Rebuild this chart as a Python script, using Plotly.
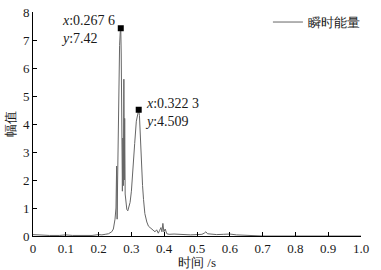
import plotly.graph_objects as go

time_s = [0, 0.02, 0.05, 0.08, 0.1, 0.12, 0.15, 0.18, 0.2, 0.21, 0.22, 0.23, 0.24, 0.245,
          0.25, 0.253, 0.255, 0.2565, 0.258, 0.26, 0.262, 0.264, 0.266, 0.2676, 0.269, 0.271,
          0.2725, 0.274, 0.2755, 0.277, 0.2785, 0.2795, 0.281, 0.283, 0.286, 0.289, 0.292,
          0.296, 0.3, 0.305, 0.31, 0.315, 0.319, 0.3223, 0.3245, 0.326, 0.329, 0.331, 0.334,
          0.337, 0.341, 0.347, 0.352, 0.357, 0.362, 0.367, 0.372, 0.377, 0.382, 0.386, 0.39,
          0.393, 0.396, 0.399, 0.403, 0.408, 0.415, 0.43, 0.45, 0.48, 0.5, 0.515, 0.522, 0.527,
          0.532, 0.545, 0.56, 0.58, 0.6, 0.62, 0.65, 0.7, 0.8, 0.9, 1.0]
energy = [0.05, 0.03, 0.02, 0.02, 0.04, 0.02, 0.02, 0.02, 0.05, 0.04, 0.06, 0.08, 0.15, 0.25,
          0.6, 1.0, 2.5, 0.6, 2.0, 4.2, 5.8, 6.8, 7.3, 7.42, 6.5, 4.0,
          1.6, 3.5, 1.8, 5.6, 2.0, 4.2, 1.5, 1.2, 0.95, 0.9, 1.0,
          1.2, 1.6, 2.3, 3.3, 4.1, 4.4, 4.509, 4.3, 3.8, 3.0, 2.4, 1.8,
          1.3, 0.8, 0.5, 0.35, 0.3, 0.25, 0.2, 0.15, 0.22, 0.1, 0.2, 0.3,
          0.15, 0.45, 0.15, 0.25, 0.08, 0.06, 0.07, 0.05, 0.04, 0.05, 0.06, 0.1, 0.15,
          0.08, 0.06, 0.05, 0.06, 0.07, 0.04, 0.02, 0.0, 0.0, 0.0, 0.0]

peak_t = [0.2676, 0.3223]
peak_e = [7.42, 4.509]
peak_labels = ["<i>x</i>:0.267 6<br><i>y</i>:7.42", "<i>x</i>:0.322 3<br><i>y</i>:4.509"]

x_ticks = [0, 0.1, 0.2, 0.3, 0.4, 0.5, 0.6, 0.7, 0.8, 0.9, 1.0]
x_tick_text = ["0", "0.1", "0.2", "0.3", "0.4", "0.5", "0.6", "0.7", "0.8", "0.9", "1.0"]
y_ticks = [0, 1, 2, 3, 4, 5, 6, 7, 8]

FONT = "Times New Roman, Liberation Serif, DejaVu Serif, serif"

fig = go.Figure()
fig.add_trace(go.Scatter(x=time_s, y=energy, mode="lines", name="瞬时能量",
                         line=dict(color="#666666", width=1)))
fig.add_trace(go.Scatter(x=peak_t, y=peak_e, mode="markers", showlegend=False,
                         marker=dict(symbol="square", size=6, color="black")))

fig.add_annotation(x=peak_t[0], y=peak_e[0], text=peak_labels[0], showarrow=False,
                   xanchor="right", yanchor="middle", xshift=-4, yshift=-1.5, align="left",
                   font=dict(family=FONT, size=14, color="#1a1a1a"))
fig.add_annotation(x=peak_t[1], y=peak_e[1], text=peak_labels[1], showarrow=False,
                   xanchor="left", yanchor="middle", xshift=4, yshift=-2.5, align="left",
                   font=dict(family=FONT, size=14, color="#1a1a1a"))

fig.update_layout(
    width=381, height=270,
    margin=dict(l=33, r=20, t=12, b=34, autoexpand=False),
    paper_bgcolor="white", plot_bgcolor="white",
    font=dict(family=FONT, size=13, color="#1a1a1a"),
    showlegend=True,
    legend=dict(x=1.012, y=1.022, xanchor="right", yanchor="top", bgcolor="rgba(0,0,0,0)",
                font=dict(family=FONT, size=13, color="#1a1a1a"),
                itemwidth=30, tracegroupgap=0),
    xaxis=dict(range=[0, 1], tickvals=x_ticks, ticktext=x_tick_text, ticks="inside",
               ticklen=4, tickcolor="black", showline=True, linecolor="black", linewidth=1,
               showgrid=False, zeroline=False, mirror=False, automargin=False,
               title=dict(text="时间 /s", standoff=2, font=dict(size=13))),
    yaxis=dict(range=[0, 8], tickvals=y_ticks, ticks="inside", ticklen=4, tickcolor="black",
               showline=True, linecolor="black", linewidth=1, showgrid=False, zeroline=False,
               automargin=False,
               title=dict(text="幅值", standoff=4, font=dict(size=13))),
)

fig.write_html("out.html", config={"displayModeBar": False},
               post_script="document.body.style.margin='0';document.body.style.overflow='hidden';")
